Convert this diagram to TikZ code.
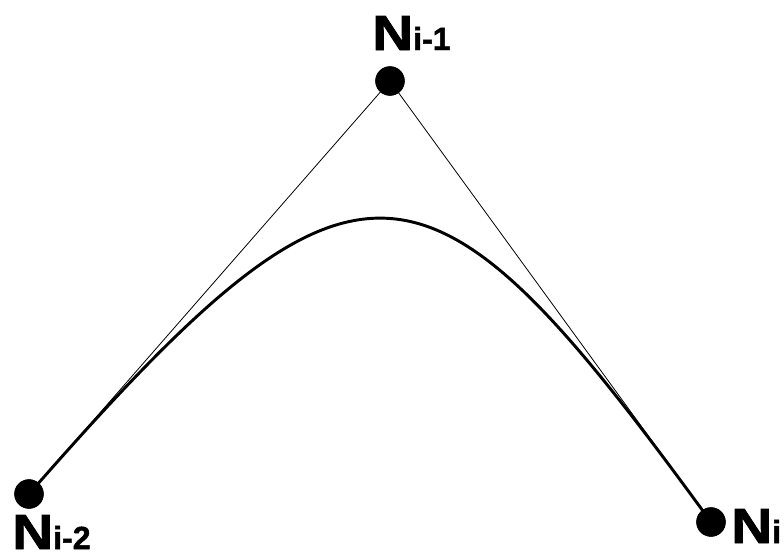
\documentclass[tikz,border=0pt]{standalone}
\usepackage{fontspec}
\setmainfont{Liberation Sans}
\newfontfamily\lblfont[FakeBold=1.5]{Liberation Sans Bold}
\usetikzlibrary{calc}
\tikzset{
  dotnode/.style={circle,fill=black,inner sep=0pt,minimum size=22pt},
  lbl/.style={anchor=base west,inner sep=0pt},
  ctrlline/.style={line width=0.6pt},
  curveline/.style={line width=2.2pt,line cap=round}
}
\newcommand{\bigN}{{\fontsize{37}{37}\lblfont\scalebox{1.15}[1]{N}}}
\newcommand{\smsub}[1]{{\fontsize{24}{24}\lblfont #1}}
\begin{document}
\begin{tikzpicture}[x=0.75pt,y=-0.75pt]
\useasboundingbox (0,0) rectangle (784,558);
\fill[white] (0,0) rectangle (784,558);
\node[dotnode] (a) at (29,494) {};
\node[dotnode] (b) at (390,81) {};
\node[dotnode] (c) at (711,522) {};
\coordinate (c1) at ($(a.center)!0.925!(b.center)$);
\coordinate (c2) at ($(c.center)!0.885!(b.center)$);
\draw[ctrlline] (a.center) -- (b.center) -- (c.center);
\draw[curveline] (a.center) .. controls (c1) and (c2) .. (c.center);
\node[dotnode] at (a) {};
\node[dotnode] at (b) {};
\node[dotnode] at (c) {};
\node[lbl] (la) at (12,549) {\bigN\smsub{i-2}};
\node[lbl] (lb) at (372,50) {\bigN\smsub{i-1}};
\node[lbl] (lc) at (731,543) {\bigN\smsub{i}};
\end{tikzpicture}
\end{document}
